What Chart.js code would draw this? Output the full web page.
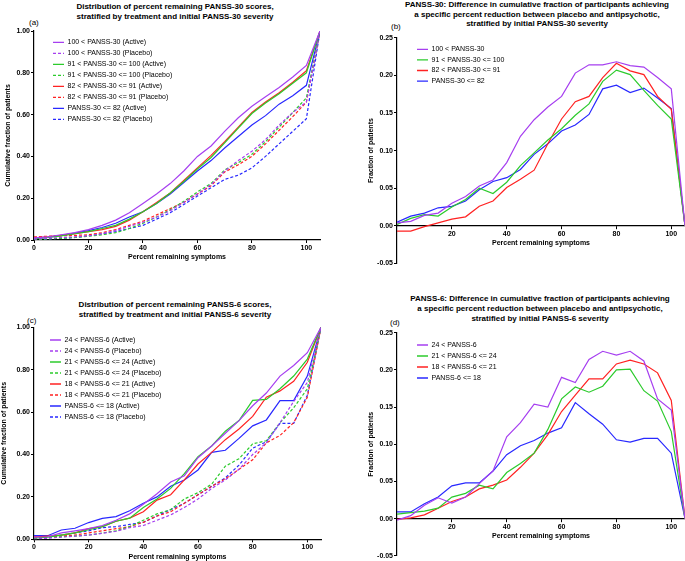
<!DOCTYPE html>
<html><head><meta charset="utf-8">
<script src="https://cdn.jsdelivr.net/npm/chart.js@4.4.1/dist/chart.umd.min.js"></script>
<style>
html,body{margin:0;padding:0;background:#fff;}
body{width:685px;height:561px;position:relative;overflow:hidden;font-family:"Liberation Sans",Arial,sans-serif;}
canvas{position:absolute;}
.t{position:absolute;width:360px;text-align:center;font-weight:bold;font-size:8px;line-height:9.8px;color:#000;white-space:nowrap;}
.l{position:absolute;font-size:8px;line-height:10px;color:#000;}
</style></head><body>
<div class="t" style="left:-5px;top:1.8px">Distribution of percent remaining PANSS-30 scores,<br>stratified by treatment and initial PANSS-30 severity</div>
<div class="t" style="left:357px;top:-0.2px">PANSS-30: Difference in cumulative fraction of participants achieving<br>a specific percent reduction between placebo and antipsychotic,<br>stratified by initial PANSS-30 severity</div>
<div class="t" style="left:-5px;top:300.1px">Distribution of percent remaining PANSS-6 scores,<br>stratified by treatment and initial PANSS-6 severity</div>
<div class="t" style="left:360px;top:294.4px">PANSS-6: Difference in cumulative fraction of participants achieving<br>a specific percent reduction between placebo and antipsychotic,<br>stratified by initial PANSS-6 severity</div>
<div class="l" style="left:29px;top:18.3px">(a)</div>
<div class="l" style="left:391px;top:22.3px">(b)</div>
<div class="l" style="left:27px;top:315.7px">(c)</div>
<div class="l" style="left:390px;top:318.3px">(d)</div>
<canvas id="ca" width="330" height="270" style="left:0;top:0"></canvas>
<canvas id="cb" width="345" height="270" style="left:340px;top:0"></canvas>
<canvas id="cc" width="331" height="281" style="left:0;top:280px"></canvas>
<canvas id="cd" width="345" height="281" style="left:340px;top:280px"></canvas>
<script>
// ---- data ----
const pctRemaining = [0,5,10,15,20,25,30,35,40,45,50,55,60,65,70,75,80,85,90,95,100,105];

// (a) PANSS-30 cumulative fraction
const p30_gt100_active   = [0.010,0.015,0.025,0.035,0.050,0.070,0.095,0.130,0.175,0.220,0.270,0.330,0.400,0.450,0.520,0.585,0.640,0.685,0.730,0.780,0.835,1.000];
const p30_gt100_placebo  = [0.005,0.008,0.012,0.015,0.020,0.030,0.045,0.065,0.085,0.110,0.140,0.180,0.220,0.265,0.330,0.380,0.425,0.480,0.550,0.610,0.660,1.000];
const p30_91to100_active = [0.005,0.012,0.020,0.030,0.040,0.055,0.070,0.100,0.135,0.175,0.225,0.280,0.340,0.395,0.465,0.535,0.605,0.655,0.700,0.750,0.800,1.000];
const p30_91to100_placebo= [0.000,0.005,0.008,0.012,0.018,0.025,0.035,0.055,0.080,0.110,0.145,0.185,0.230,0.270,0.335,0.370,0.410,0.470,0.540,0.610,0.680,1.000];
const p30_82to91_active  = [0.010,0.015,0.022,0.030,0.040,0.050,0.065,0.095,0.135,0.180,0.225,0.285,0.345,0.405,0.470,0.540,0.610,0.660,0.705,0.755,0.810,1.000];
const p30_82to91_placebo = [0.015,0.018,0.020,0.022,0.025,0.035,0.050,0.070,0.090,0.120,0.150,0.180,0.220,0.260,0.325,0.360,0.400,0.460,0.525,0.590,0.660,1.000];
const p30_le82_active    = [0.005,0.012,0.022,0.033,0.045,0.060,0.080,0.110,0.135,0.175,0.220,0.275,0.330,0.380,0.440,0.495,0.550,0.595,0.650,0.690,0.740,1.000];
const p30_le82_placebo   = [0.003,0.005,0.008,0.012,0.020,0.030,0.040,0.055,0.070,0.100,0.130,0.170,0.210,0.250,0.290,0.310,0.345,0.400,0.460,0.520,0.580,1.000];

// (b) PANSS-30 difference
const d30_gt100   = [0.004,0.006,0.014,0.017,0.030,0.039,0.053,0.061,0.084,0.119,0.141,0.158,0.172,0.203,0.214,0.214,0.218,0.213,0.211,0.197,0.182,0.000];
const d30_91to100 = [0.002,0.010,0.015,0.013,0.025,0.035,0.050,0.043,0.058,0.080,0.097,0.114,0.129,0.147,0.162,0.192,0.207,0.201,0.180,0.160,0.142,0.000];
const d30_82to91  = [-0.007,-0.007,-0.001,0.004,0.009,0.012,0.026,0.033,0.051,0.062,0.074,0.109,0.142,0.165,0.172,0.197,0.216,0.206,0.201,0.172,0.155,0.000];
const d30_le82    = [0.005,0.013,0.017,0.024,0.026,0.033,0.048,0.059,0.064,0.075,0.095,0.109,0.126,0.134,0.148,0.182,0.187,0.177,0.183,0.170,0.156,0.000];

// (c) PANSS-6 cumulative fraction
const p6_gt24_active    = [0.010,0.012,0.030,0.040,0.050,0.065,0.090,0.120,0.165,0.215,0.270,0.300,0.385,0.440,0.500,0.560,0.630,0.690,0.770,0.820,0.880,1.000];
const p6_gt24_placebo   = [0.000,0.005,0.010,0.015,0.020,0.028,0.038,0.055,0.065,0.090,0.115,0.150,0.190,0.240,0.280,0.330,0.400,0.455,0.550,0.650,0.740,1.000];
const p6_21to24_active  = [0.005,0.010,0.020,0.030,0.045,0.060,0.085,0.100,0.150,0.190,0.240,0.310,0.390,0.440,0.510,0.560,0.655,0.660,0.710,0.770,0.850,1.000];
const p6_21to24_placebo = [0.005,0.008,0.012,0.015,0.020,0.030,0.040,0.060,0.090,0.120,0.140,0.190,0.220,0.260,0.345,0.380,0.450,0.465,0.550,0.620,0.710,1.000];
const p6_18to21_active  = [0.010,0.015,0.020,0.030,0.050,0.060,0.085,0.100,0.130,0.185,0.210,0.280,0.355,0.410,0.470,0.520,0.580,0.670,0.700,0.745,0.835,1.000];
const p6_18to21_placebo = [0.010,0.012,0.015,0.020,0.030,0.040,0.050,0.060,0.080,0.110,0.130,0.170,0.210,0.250,0.285,0.330,0.375,0.455,0.490,0.550,0.670,1.000];
const p6_le18_active    = [0.017,0.017,0.044,0.052,0.079,0.099,0.107,0.135,0.170,0.200,0.250,0.280,0.327,0.410,0.420,0.476,0.535,0.563,0.654,0.654,0.770,1.000];
const p6_le18_placebo   = [0.005,0.010,0.020,0.030,0.040,0.055,0.060,0.070,0.080,0.110,0.140,0.170,0.210,0.250,0.290,0.350,0.430,0.460,0.547,0.547,0.680,1.000];

// (d) PANSS-6 difference
const d6_gt24   = [-0.002,0.004,0.018,0.028,0.021,0.029,0.047,0.064,0.110,0.129,0.154,0.150,0.190,0.183,0.214,0.225,0.220,0.225,0.212,0.161,0.146,0.000];
const d6_21to24 = [0.006,0.008,0.010,0.014,0.029,0.034,0.045,0.040,0.062,0.074,0.088,0.120,0.161,0.177,0.170,0.178,0.200,0.201,0.172,0.158,0.117,0.000];
const d6_18to21 = [-0.001,0.001,0.005,0.014,0.023,0.029,0.040,0.045,0.052,0.069,0.088,0.113,0.144,0.166,0.188,0.188,0.208,0.213,0.208,0.196,0.159,0.000];
const d6_le18   = [0.009,0.009,0.020,0.029,0.044,0.048,0.048,0.064,0.086,0.098,0.105,0.115,0.122,0.156,0.141,0.127,0.106,0.103,0.108,0.108,0.088,0.000];

// ---- styling ----
const FONT = "'Liberation Sans', Arial, Helvetica, sans-serif";
const PURPLE = '#a63ff0', GREEN = '#2ccb2c', RED = '#ff2222', BLUE = '#2828ff';
const DASH = [3, 2];

function pts(arr) { return pctRemaining.map((x, i) => ({x: x, y: arr[i]})); }
function ds(label, arr, color, dashed) {
  return { label, data: pts(arr), borderColor: color, backgroundColor: color,
    borderWidth: 1.2, borderDash: dashed ? DASH : [], pointRadius: 0, tension: 0, fill: false };
}

const legendPos = {
  id: 'legendPos',
  afterLayout(chart, args, opts) {
    const lg = chart.legend;
    if (!lg) return;
    const w = lg.width, h = lg.height;
    lg.left = opts.left; lg.top = opts.top; lg.right = opts.left + w; lg.bottom = opts.top + h;
  }
};

function legendLabels(chart) {
  const items = Chart.defaults.plugins.legend.labels.generateLabels(chart);
  items.forEach((it) => {
    const d = chart.data.datasets[it.datasetIndex];
    it.lineDash = d.borderDash || [];
    it.strokeStyle = d.borderColor;
    it.fillStyle = d.borderColor;
    it.lineWidth = 1.3;
    it.pointStyle = 'line';
  });
  return items;
}

function fmt2(v) {
  const n = Number(v);
  return (Math.abs(n) < 1e-9 ? 0 : n).toFixed(2);
}

function xAxis(opts) {
  return Object.assign({
    type: 'linear', min: 0, max: 105,
    ticks: { stepSize: 20, includeBounds: false, autoSkip: false, maxRotation: 0, padding: 1,
      color: '#000', font: { family: FONT, size: 7, weight: 'bold' } },
    grid: { display: true, drawOnChartArea: false, drawTicks: true, tickLength: 3, color: '#000', lineWidth: 1 },
    border: { display: true, color: '#000', width: 1.2 },
    title: { display: true, text: 'Percent remaining symptoms', color: '#000', padding: 0,
      font: { family: FONT, size: 7, weight: 'bold' } }
  }, opts);
}
function yAxis(opts, titleText, titlePad, step) {
  return Object.assign({
    type: 'linear',
    ticks: { stepSize: step, includeBounds: false, autoSkip: false, padding: 1, color: '#000',
      font: { family: FONT, size: 7, weight: 'bold' },
      callback: fmt2 },
    grid: { display: true, drawOnChartArea: false, drawTicks: true, tickLength: 3, color: '#000', lineWidth: 1 },
    border: { display: true, color: '#000', width: 1.2 },
    title: { display: true, text: titleText, color: '#000', padding: { top: titlePad, bottom: 0 },
      font: { family: FONT, size: 7, weight: 'bold' } }
  }, opts);
}

function makeChart(id, datasets, scales, layoutPad, legendLeft, legendTop, legendPadding) {
  return new Chart(document.getElementById(id), {
    type: 'line',
    data: { datasets },
    options: {
      responsive: false, animation: false, devicePixelRatio: 1,
      layout: { padding: layoutPad },
      scales,
      plugins: {
        tooltip: { enabled: false },
        legendPos: { left: legendLeft, top: legendTop },
        legend: {
          position: 'chartArea', align: 'start',
          labels: { usePointStyle: true, pointStyle: 'line', pointStyleWidth: 11, boxHeight: 7,
            generateLabels: legendLabels,
            padding: legendPadding, color: '#000', font: { family: FONT, size: 7 } }
        }
      }
    },
    plugins: [legendPos]
  });
}

// (a)
makeChart('ca', [
  ds('100 < PANSS-30 (Active)', p30_gt100_active, PURPLE, false),
  ds('100 < PANSS-30 (Placebo)', p30_gt100_placebo, PURPLE, true),
  ds('91 < PANSS-30 <= 100 (Active)', p30_91to100_active, GREEN, false),
  ds('91 < PANSS-30 <= 100 (Placebo)', p30_91to100_placebo, GREEN, true),
  ds('82 < PANSS-30 <= 91 (Active)', p30_82to91_active, RED, false),
  ds('82 < PANSS-30 <= 91 (Placebo)', p30_82to91_placebo, RED, true),
  ds('PANSS-30 <= 82 (Active)', p30_le82_active, BLUE, false),
  ds('PANSS-30 <= 82 (Placebo)', p30_le82_placebo, BLUE, true)
], {
  x: xAxis({ position: 'bottom', afterFit(s) { s.height = 21; } }),
  y: yAxis({ min: 0, max: 1, afterFit(s) { s.width = 34; } }, 'Cumulative fraction of patients', 4, 0.2)
}, { top: 31, right: 10, bottom: 9, left: 0 }, 49, 34.8, 4);

// (b)
makeChart('cb', [
  ds('100 < PANSS-30', d30_gt100, PURPLE, false),
  ds('91 < PANSS-30 <= 100', d30_91to100, GREEN, false),
  ds('82 < PANSS-30 <= 91', d30_82to91, RED, false),
  ds('PANSS-30 <= 82', d30_le82, BLUE, false)
], {
  x: xAxis({ position: { y: 0 }, afterBuildTicks(s) { s.ticks = s.ticks.filter(t => t.value > 0); }, afterFit(s) { s.height = 21.2; } }),
  y: yAxis({ min: -0.05, max: 0.25, afterFit(s) { s.width = 35; } }, 'Fraction of patients', 4.5, 0.05)
}, { top: 37.7, right: 0, bottom: 6.5, left: 22 }, 73.4, 42.2, 3.6);

// (c)
makeChart('cc', [
  ds('24 < PANSS-6 (Active)', p6_gt24_active, PURPLE, false),
  ds('24 < PANSS-6 (Placebo)', p6_gt24_placebo, PURPLE, true),
  ds('21 < PANSS-6 <= 24 (Active)', p6_21to24_active, GREEN, false),
  ds('21 < PANSS-6 <= 24 (Placebo)', p6_21to24_placebo, GREEN, true),
  ds('18 < PANSS-6 <= 21 (Active)', p6_18to21_active, RED, false),
  ds('18 < PANSS-6 <= 21 (Placebo)', p6_18to21_placebo, RED, true),
  ds('PANSS-6 <= 18 (Active)', p6_le18_active, BLUE, false),
  ds('PANSS-6 <= 18 (Placebo)', p6_le18_placebo, BLUE, true)
], {
  x: xAxis({ position: 'bottom', afterFit(s) { s.height = 21.6; } }),
  y: yAxis({ min: 0, max: 1, afterFit(s) { s.width = 34; } }, 'Cumulative fraction of patients', 0, 0.2)
}, { top: 47.3, right: 10, bottom: 0.1, left: 0 }, 46, 52.5, 4);

// (d)
makeChart('cd', [
  ds('24 < PANSS-6', d6_gt24, PURPLE, false),
  ds('21 < PANSS-6 <= 24', d6_21to24, GREEN, false),
  ds('18 < PANSS-6 <= 21', d6_18to21, RED, false),
  ds('PANSS-6 <= 18', d6_le18, BLUE, false)
], {
  x: xAxis({ position: { y: 0 }, afterBuildTicks(s) { s.ticks = s.ticks.filter(t => t.value > 0); }, afterFit(s) { s.height = 21.6; } }),
  y: yAxis({ min: -0.05, max: 0.25, afterFit(s) { s.width = 35; } }, 'Fraction of patients', 4.5, 0.05)
}, { top: 52.7, right: 0, bottom: 1.1, left: 22 }, 73, 57.5, 4);
</script>
</body></html>
